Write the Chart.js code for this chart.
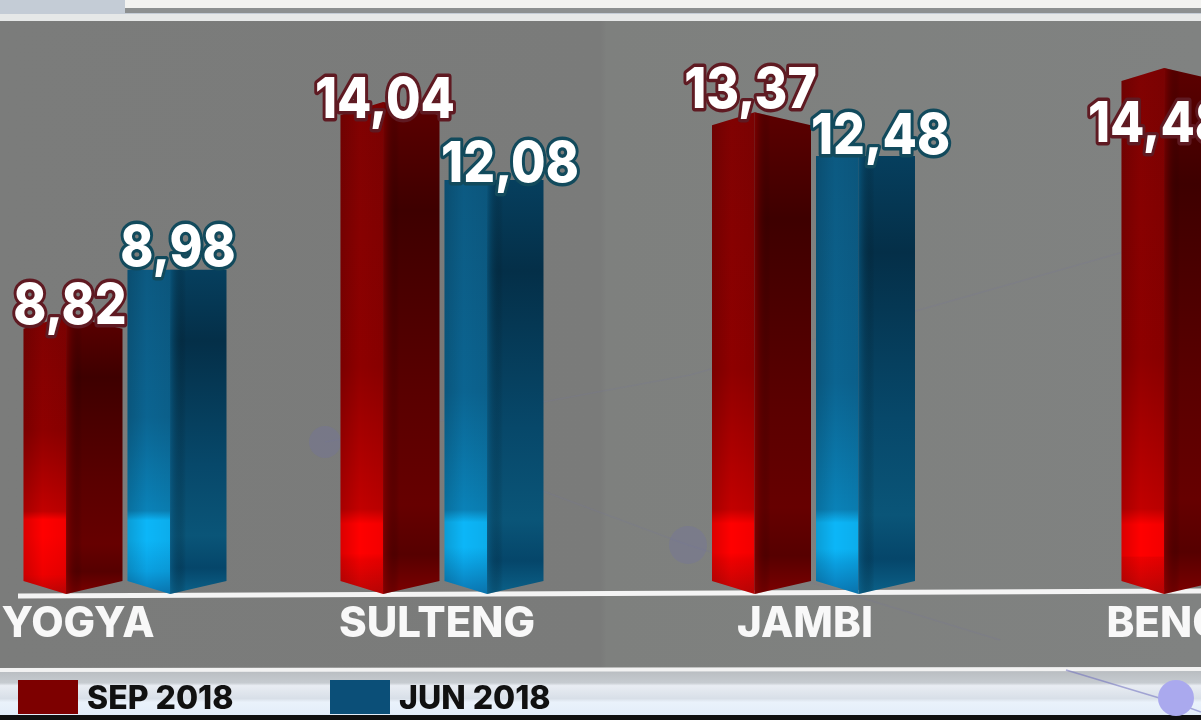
<!DOCTYPE html>
<html>
<head>
<meta charset="utf-8">
<title>SEP 2018 / JUN 2018</title>
<style>
  html, body { margin: 0; padding: 0; background: #000; overflow: hidden; }
  canvas { display: block; }
</style>
<script src="https://cdn.jsdelivr.net/npm/chart.js@4"></script>
</head>
<body>
<canvas id="myChart" width="1201" height="720"></canvas>
<script>
const categories = ['YOGYA', 'SULTENG', 'JAMBI', 'BENGKULU'];
const seriesNames = ['SEP 2018', 'JUN 2018'];

// figures printed over the bars
const sepLabels = ['8,82', '14,04', '13,37', '14,48'];
const junLabels = ['8,98', '12,08', '12,48', null];

// bar lengths as drawn in the picture, they do not follow the printed figures exactly
const sepBars = [8.82, 13.70, 13.47, 14.48];
const junBars = [9.87, 11.92, 12.47, null];

// layout of the slide, groups are not evenly spaced
const groupCentres = [125, 442, 813.5, 1223];
const tickCentres = [78, 437, 805, 1223];
const sepLabelOffset = [[-3, -9], [-5, -1], [-11, -21], [-13, 57]];
const junLabelOffset = [[1, -21], [16, -15], [15, -19], [0, 0]];
const axisFloor = 2.47;

const barGap = 5;
const redFaces = {
  left: ['#800202', '#8e0000', '#c20000', '#ff0000', '#ee0000', '#bd0505'],
  right: ['#5c0000', '#3e0000', '#5a0000', '#660000', '#560000', '#7c0000'],
  fold: 'rgba(150,0,0,0.55)',
  stroke: '#5f1a22'
};
const blueFaces = {
  left: ['#0c5a82', '#0b6491', '#0a82b8', '#0cb6f8', '#0a9fe0', '#0a78b4'],
  right: ['#063f5e', '#042f48', '#07486a', '#0a5578', '#05466a', '#0b6189'],
  fold: 'rgba(10,100,145,0.55)',
  stroke: '#124a5c'
};

function leftGradient(ctx, top, base, colors) {
  const h = base - top;
  const glow = Math.max(0.05, 1 - 80 / h);
  const g = ctx.createLinearGradient(0, top, 0, base);
  g.addColorStop(0, colors[0]);
  g.addColorStop(Math.max(0, glow - 0.3), colors[1]);
  g.addColorStop(Math.max(0, glow - 0.01), colors[2]);
  g.addColorStop(Math.min(1, glow + 0.02), colors[3]);
  g.addColorStop(Math.min(1, glow + 0.08), colors[3]);
  g.addColorStop(0.93, colors[4]);
  g.addColorStop(1, colors[5]);
  return g;
}

function rightGradient(ctx, top, base, colors) {
  const g = ctx.createLinearGradient(0, top, 0, base);
  g.addColorStop(0, colors[0]);
  g.addColorStop(0.22, colors[1]);
  g.addColorStop(0.6, colors[2]);
  g.addColorStop(0.82, colors[3]);
  g.addColorStop(0.92, colors[4]);
  g.addColorStop(1, colors[5]);
  return g;
}

function drawPrism(ctx, el, faces, peak) {
  const left = el.x - el.width / 2 + barGap / 2;
  const right = el.x + el.width / 2 - barGap / 2;
  const fold = left + (right - left) * 0.43;
  const chevron = 13;

  ctx.save();
  ctx.beginPath();
  ctx.moveTo(left, el.y + peak);
  ctx.lineTo(fold, el.y);
  ctx.lineTo(fold, el.base);
  ctx.lineTo(left, el.base - chevron);
  ctx.closePath();
  ctx.fillStyle = leftGradient(ctx, el.y, el.base, faces.left);
  ctx.fill();
  const soft = ctx.createLinearGradient(left, 0, fold, 0);
  soft.addColorStop(0, 'rgba(0,0,0,0.14)');
  soft.addColorStop(0.45, 'rgba(0,0,0,0)');
  soft.addColorStop(1, 'rgba(0,0,0,0.05)');
  ctx.fillStyle = soft;
  ctx.fill();

  ctx.beginPath();
  ctx.moveTo(fold, el.y);
  ctx.lineTo(right, el.y + peak);
  ctx.lineTo(right, el.base - chevron);
  ctx.lineTo(fold, el.base);
  ctx.closePath();
  ctx.fillStyle = rightGradient(ctx, el.y, el.base, faces.right);
  ctx.fill();
  // soft edge at the fold
  const edge = ctx.createLinearGradient(fold, 0, fold + 16, 0);
  edge.addColorStop(0, faces.fold);
  edge.addColorStop(1, 'rgba(0,0,0,0)');
  ctx.fillStyle = edge;
  ctx.fill();
  ctx.restore();
}

function drawBackdrop(ctx) {
  // top frame
  ctx.fillStyle = '#c4ccd6';
  ctx.fillRect(0, 0, 1201, 22);
  ctx.fillStyle = '#f2f2f0';
  ctx.fillRect(125, 0, 1076, 9);
  ctx.fillStyle = '#8c8f90';
  ctx.fillRect(125, 8, 1076, 5);
  ctx.fillStyle = '#e6e8e8';
  ctx.fillRect(0, 14, 1201, 7);

  // grey panel
  const panel = ctx.createLinearGradient(0, 0, 1201, 0);
  panel.addColorStop(0, '#7b7c7b');
  panel.addColorStop(0.5, '#7a7b7a');
  panel.addColorStop(0.505, '#7e807e');
  panel.addColorStop(1, '#808281');
  ctx.fillStyle = panel;
  ctx.fillRect(0, 21, 1201, 650);

  // faint network behind the bars
  ctx.strokeStyle = 'rgba(120,120,150,0.22)';
  ctx.lineWidth = 1.5;
  ctx.beginPath();
  ctx.moveTo(325, 442); ctx.lineTo(690, 375); ctx.lineTo(1201, 230);
  ctx.moveTo(540, 490); ctx.lineTo(688, 545); ctx.lineTo(1000, 640);
  ctx.stroke();
  ctx.fillStyle = 'rgba(112,112,165,0.3)';
  ctx.beginPath(); ctx.arc(325, 442, 16, 0, Math.PI * 2); ctx.fill();
  ctx.beginPath(); ctx.arc(688, 545, 19, 0, Math.PI * 2); ctx.fill();

  // bottom strip
  const strip = ctx.createLinearGradient(0, 670, 0, 716);
  strip.addColorStop(0, '#b8bcc0');
  strip.addColorStop(0.28, '#c6cbd0');
  strip.addColorStop(0.34, '#e9edf3');
  strip.addColorStop(0.62, '#d8dfe8');
  strip.addColorStop(0.7, '#eaf2fb');
  strip.addColorStop(1, '#e2edf9');
  ctx.fillStyle = strip;
  ctx.fillRect(0, 670, 1201, 46);
  ctx.fillStyle = '#101010';
  ctx.fillRect(0, 715, 1201, 5);

  ctx.strokeStyle = '#f2f2f2';
  ctx.lineWidth = 4;
  ctx.beginPath();
  ctx.moveTo(0, 670);
  ctx.lineTo(1201, 669);
  ctx.stroke();

  ctx.strokeStyle = 'rgba(110,110,190,0.55)';
  ctx.lineWidth = 1.5;
  ctx.beginPath();
  ctx.moveTo(1066, 670); ctx.lineTo(1176, 703); ctx.lineTo(1201, 712);
  ctx.stroke();
  ctx.fillStyle = '#aaa9ee';
  ctx.beginPath(); ctx.arc(1176, 698, 18, 0, Math.PI * 2); ctx.fill();
}

const slidePlugin = {
  id: 'slide',
  beforeDraw: function (chart) {
    drawBackdrop(chart.ctx);
  },
  beforeDatasetsDraw: function (chart) {
    // base line under the bars, slightly tilted in the picture
    const ctx = chart.ctx;
    ctx.save();
    ctx.strokeStyle = '#f4f4f4';
    ctx.lineWidth = 5;
    ctx.beginPath();
    ctx.moveTo(18, 596);
    ctx.lineTo(1201, 591);
    ctx.stroke();
    ctx.restore();
  },
  beforeDatasetDraw: function (chart, args) {
    const faces = args.index === 0 ? redFaces : blueFaces;
    const peak = args.index === 0 ? 13 : 0;
    args.meta.data.forEach(function (el, i) {
      if (chart.data.datasets[args.index].data[i].y !== null) {
        drawPrism(chart.ctx, el, faces, peak);
      }
    });
    return false;
  },
  afterDatasetsDraw: function (chart) {
    const ctx = chart.ctx;
    ctx.save();
    ctx.font = '800 50px Inter';
    ctx.textAlign = 'center';
    ctx.textBaseline = 'middle';
    ctx.lineJoin = 'round';
    [[sepLabels, sepLabelOffset, redFaces], [junLabels, junLabelOffset, blueFaces]].forEach(function (set, d) {
      const els = chart.getDatasetMeta(d).data;
      set[0].forEach(function (text, i) {
        if (text === null) return;
        ctx.save();
        ctx.translate(els[i].x + set[1][i][0], els[i].y + set[1][i][1]);
        ctx.scale(1, 1.13);
        ctx.strokeStyle = set[2].stroke;
        ctx.lineWidth = 6;
        ctx.strokeText(text, 0, 0);
        ctx.fillStyle = '#ffffff';
        ctx.fillText(text, 0, 0);
        ctx.restore();
      });
    });

    // legend strip
    const legendX = [18, 330];
    ctx.font = '800 32px Inter';
    ctx.textAlign = 'left';
    ctx.textBaseline = 'alphabetic';
    chart.data.datasets.forEach(function (ds, d) {
      ctx.fillStyle = ds.backgroundColor;
      ctx.fillRect(legendX[d], 680, 60, 34);
      ctx.fillStyle = '#111111';
      ctx.fillText(ds.label, legendX[d] + 69, 709);
    });
    ctx.restore();
  }
};

new Chart(document.getElementById('myChart').getContext('2d'), {
  type: 'bar',
  data: {
    datasets: [
      {
        label: seriesNames[0],
        data: sepBars.map(function (v, i) { return { x: groupCentres[i], y: v }; }),
        base: axisFloor,
        backgroundColor: '#7d0000'
      },
      {
        label: seriesNames[1],
        data: junBars.map(function (v, i) { return { x: groupCentres[i], y: v }; }),
        base: axisFloor,
        backgroundColor: '#0b4f78'
      }
    ]
  },
  options: {
    responsive: false,
    animation: false,
    devicePixelRatio: 1,
    layout: { padding: 0 },
    barThickness: 104,
    plugins: {
      legend: { display: false },
      tooltip: { enabled: false }
    },
    scales: {
      x: {
        type: 'linear',
        min: 0,
        max: 1201,
        offset: false,
        grid: { display: false, drawTicks: false },
        border: { display: false },
        afterBuildTicks: function (scale) {
          scale.ticks = tickCentres.map(function (v) { return { value: v }; });
        },
        afterFit: function (scale) {
          scale.height = 126;
          scale.paddingLeft = 0;
          scale.paddingRight = 0;
        },
        ticks: {
          autoSkip: false,
          maxRotation: 0,
          padding: 5,
          color: '#f8f8f8',
          font: { family: 'Inter', size: 42, weight: '800' },
          callback: function (value, index) {
            return categories[index];
          }
        }
      },
      y: {
        display: false,
        min: axisFloor,
        max: 16.03
      }
    }
  },
  plugins: [slidePlugin]
});
</script>
</body>
</html>
